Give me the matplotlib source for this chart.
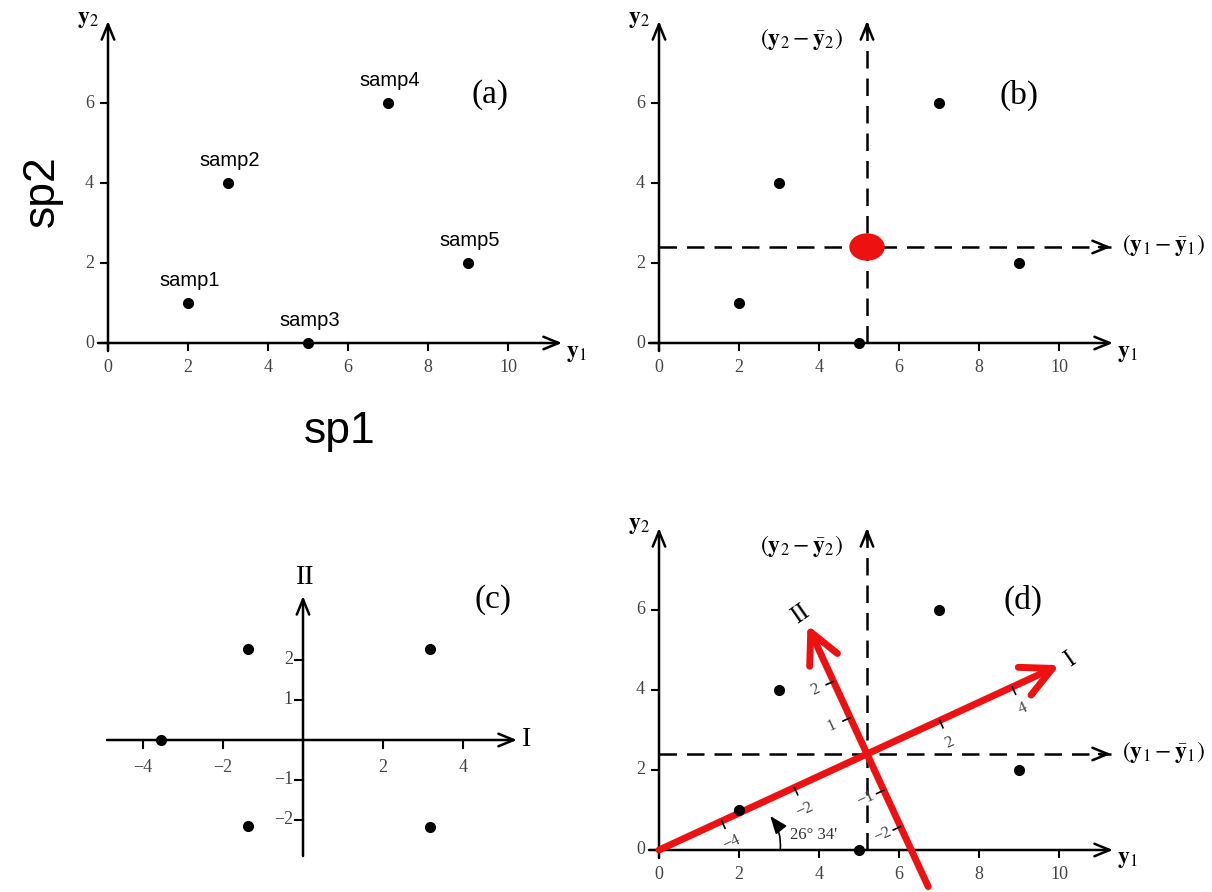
import numpy as np
import matplotlib
matplotlib.use('Agg')
import matplotlib.pyplot as plt
from matplotlib.patches import Ellipse

plt.rcParams['font.family'] = ['Liberation Serif', 'DejaVu Serif']
plt.rcParams['mathtext.fontset'] = 'stix'

# data
samples = ['samp1', 'samp2', 'samp3', 'samp4', 'samp5']
sp1 = [2, 3, 5, 7, 9]
sp2 = [1, 4, 0, 6, 2]
mean1, mean2 = 5.2, 2.4
pc1 = [-3.55, -1.37, -1.37, 3.18, 3.18]
pc2 = [0.0, 2.27, -2.15, 2.27, -2.18]
xticks = [0, 2, 4, 6, 8, 10]
yticks = [0, 2, 4, 6]
c_xticks = [-4, -2, 2, 4]
c_yticks = [-2, -1, 1, 2]
angle_label = "26\u00b0 34'"

W, H = 1212, 892
S = 40.0  # px per unit
fig = plt.figure(figsize=(W / 100, H / 100), dpi=100)

TICKC = '#444444'
TS = 13


def panel(ox, oy, x0, x1, y0, y1):
    ax = fig.add_axes([(ox + x0 * S) / W, 1 - (oy - y0 * S) / H,
                       (x1 - x0) * S / W, (y1 - y0) * S / H])
    ax.set_xlim(x0, x1)
    ax.set_ylim(y0, y1)
    ax.axis('off')
    return ax


def arrow(ax, start, end, color='black', lw=1.8, hl=1.1, hw=0.45, ms=10):
    ax.annotate('', xy=end, xytext=start, annotation_clip=False,
                arrowprops=dict(arrowstyle='->,head_length=%s,head_width=%s' % (hl, hw),
                                color=color, lw=lw, mutation_scale=ms,
                                shrinkA=0, shrinkB=0))


def dashed_arrow(ax, start, end):
    ax.plot([start[0], end[0]], [start[1], end[1]], color='black', lw=1.8,
            dashes=(7, 4), clip_on=False)
    d = np.array(end) - np.array(start)
    d = d / np.hypot(*d)
    arrow(ax, tuple(np.array(end) - 0.3 * d), end)


def base_axes(ax, label_dx=-0.5):
    arrow(ax, (0, -0.2), (0, 8.05))
    arrow(ax, (-0.25, 0), (11.35, 0))
    for t in xticks:
        ax.plot([t, t], [0, -0.18], color='black', lw=1.5, clip_on=False)
        ax.text(t, -0.62, str(t), ha='center', va='center', fontsize=TS, color=TICKC)
    for t in yticks:
        ax.plot([0, -0.18], [t, t], color='black', lw=1.5, clip_on=False)
        ax.text(-0.35, t, str(t), ha='right', va='center', fontsize=TS, color=TICKC)
    ax.text(label_dx, 8.1, r'$\mathbf{y}_2$', ha='center', va='center', fontsize=17)
    ax.text(11.7, -0.25, r'$\mathbf{y}_1$', ha='center', va='center', fontsize=17)


# (a)
ax = panel(108, 343, -2.7, 12.5, -2.6, 8.5)
base_axes(ax)
ax.plot(sp1, sp2, 'o', color='black', ms=7, clip_on=False, zorder=5)
for name, x, y in zip(samples, sp1, sp2):
    ax.text(x + 0.05, y + 0.55, name, ha='center', va='center', fontsize=14.5,
            family='Liberation Sans')
ax.text(9.55, 6.2, '(a)', ha='center', va='center', fontsize=24)
ax.text(5.8, -2.2, 'sp1', ha='center', va='center', fontsize=32, family='Liberation Sans')
ax.text(-1.65, 3.8, 'sp2', ha='center', va='center', fontsize=32, rotation=90,
        family='Liberation Sans')

# (b)
ax = panel(659, 343, -1.5, 13.8, -1.0, 8.5)
base_axes(ax)
ax.plot(sp1, sp2, 'o', color='black', ms=7, clip_on=False, zorder=5)
dashed_arrow(ax, (mean1, 0), (mean1, 8.05))
dashed_arrow(ax, (0, mean2), (11.3, mean2))
ax.add_patch(Ellipse((mean1, mean2), 0.85, 0.65, color='#ee1111', zorder=6))
ax.text(3.55, 7.6, r'$(\mathbf{y}_2-\bar{\mathbf{y}}_2)$', ha='center', va='center', fontsize=17)
ax.text(12.6, mean2 + 0.05, r'$(\mathbf{y}_1-\bar{\mathbf{y}}_1)$', ha='center', va='center', fontsize=17)
ax.text(9.0, 6.2, '(b)', ha='center', va='center', fontsize=24)

# (c)
ax = panel(303, 740, -6.0, 6.5, -3.5, 4.6)
arrow(ax, (-4.9, 0), (5.35, 0))
arrow(ax, (0, -2.9), (0, 3.6))
for t in c_xticks:
    ax.plot([t, t], [0, -0.2], color='black', lw=1.5)
    ax.text(t, -0.68, str(t).replace('-', '\u2212'), ha='center', va='center',
            fontsize=TS, color=TICKC)
for t in c_yticks:
    ax.plot([0, -0.2], [t, t], color='black', lw=1.5)
    ax.text(-0.25, t, str(t).replace('-', '\u2212'), ha='right', va='center',
            fontsize=TS, color=TICKC)
ax.plot(pc1, pc2, 'o', color='black', ms=7, zorder=5)
ax.text(5.6, 0, 'I', ha='center', va='center', fontsize=20)
ax.text(0.05, 4.05, 'II', ha='center', va='center', fontsize=20)
ax.text(4.75, 3.5, '(c)', ha='center', va='center', fontsize=24)

# (d)
ax = panel(659, 850, -1.5, 13.8, -1.05, 9.0)
base_axes(ax)
ax.plot(sp1, sp2, 'o', color='black', ms=7, clip_on=False, zorder=5)
dashed_arrow(ax, (mean1, 0), (mean1, 8.05))
dashed_arrow(ax, (0, mean2), (11.3, mean2))
ax.text(3.55, 7.6, r'$(\mathbf{y}_2-\bar{\mathbf{y}}_2)$', ha='center', va='center', fontsize=17)
ax.text(12.6, mean2 + 0.05, r'$(\mathbf{y}_1-\bar{\mathbf{y}}_1)$', ha='center', va='center', fontsize=17)
ax.text(9.1, 6.25, '(d)', ha='center', va='center', fontsize=24)

th = np.arctan2(mean2, mean1)
u = np.array([np.cos(th), np.sin(th)])
n = np.array([np.sin(th), -np.cos(th)])
v = np.array([-np.sin(th), np.cos(th)])
c = np.array([mean1, mean2])
RED = '#ee1111'
arrow(ax, tuple(c - np.hypot(mean1, mean2) * u), tuple(c + 5.3 * u),
      color=RED, lw=5, hl=1.1, hw=0.55, ms=20)
arrow(ax, tuple(c - 3.65 * v), tuple(c + 3.55 * v), color=RED, lw=5, hl=1.1, hw=0.55, ms=20)
rot = np.degrees(th)
for t in c_xticks:
    p = c + t * u
    q = p + 0.2 * n
    ax.plot([p[0], q[0]], [p[1], q[1]], color='black', lw=1.2, zorder=4)
    r = p + 0.6 * n
    ax.text(r[0], r[1], str(t).replace('-', '\u2212'), ha='center', va='center',
            fontsize=12, color=TICKC, rotation=rot)
for t in c_yticks:
    p = c + t * v
    q = p - 0.2 * u
    ax.plot([p[0], q[0]], [p[1], q[1]], color='black', lw=1.2, zorder=4)
    r = p - 0.5 * u
    ax.text(r[0], r[1], str(t).replace('-', '\u2212'), ha='center', va='center',
            fontsize=12, color=TICKC, rotation=rot)
tip1 = c + 5.6 * u
tip2 = c + 3.85 * v
ax.text(tip1[0], tip1[1], 'I', ha='center', va='center', fontsize=18, rotation=rot + 10)
ax.text(tip2[0] - 0.05, tip2[1], 'II', ha='center', va='center', fontsize=18, rotation=rot + 10)
ax.annotate('', xy=(2.78, 0.85), xytext=(3.03, 0), annotation_clip=False,
            arrowprops=dict(arrowstyle='-|>,head_length=0.9,head_width=0.35',
                            color='black', lw=1.2, mutation_scale=12,
                            connectionstyle='arc3,rad=0.2', shrinkA=0, shrinkB=0))
ax.text(3.27, 0.38, angle_label, ha='left', va='center', fontsize=12, color='#333333')

fig.savefig('out.png', dpi=100)
